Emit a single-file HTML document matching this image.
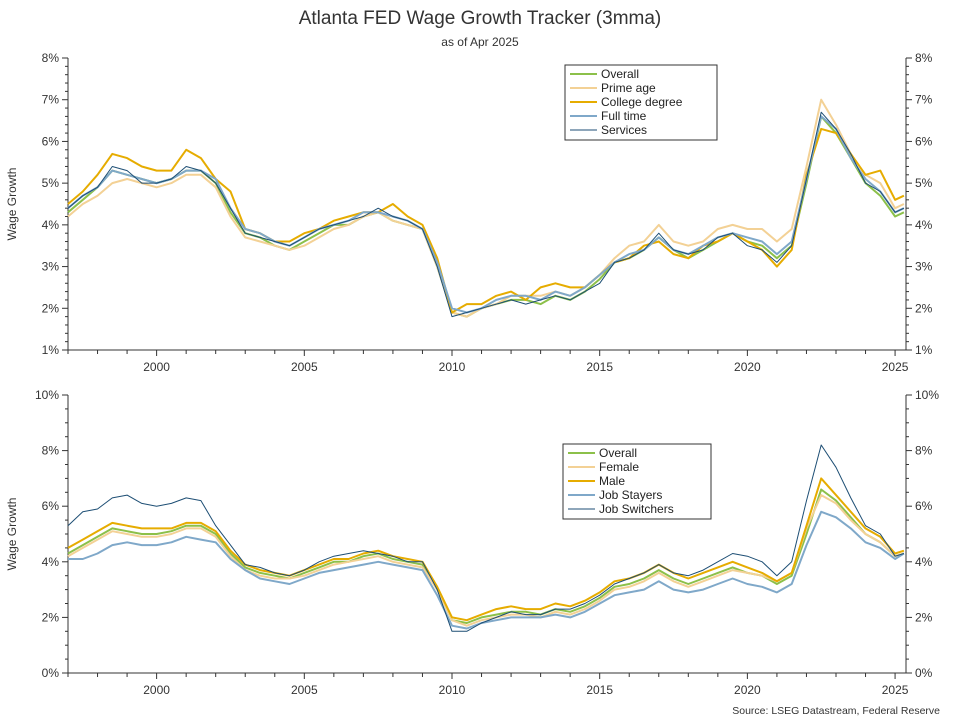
<!DOCTYPE html>
<html><head><meta charset="utf-8">
<style>
body{margin:0;background:#fff;}
svg{display:block;font-family:"Liberation Sans",Arial,sans-serif;}
</style></head>
<body>
<svg id="chart" width="960" height="720" viewBox="0 0 960 720">
<text x="480" y="24" text-anchor="middle" font-size="19" fill="#333">Atlanta FED Wage Growth Tracker (3mma)</text>
<text x="480" y="46" text-anchor="middle" font-size="12" fill="#333">as of Apr 2025</text>
<text x="940" y="714" text-anchor="end" font-size="10.5" fill="#333">Source: LSEG Datastream, Federal Reserve</text>
</svg>
<script>
// Dates: semiannual 1997.0 .. 2025.0 plus Apr 2025
const dates = [1997,1997.5,1998,1998.5,1999,1999.5,2000,2000.5,2001,2001.5,2002,2002.5,2003,2003.5,2004,2004.5,2005,2005.5,2006,2006.5,2007,2007.5,2008,2008.5,2009,2009.5,2010,2010.5,2011,2011.5,2012,2012.5,2013,2013.5,2014,2014.5,2015,2015.5,2016,2016.5,2017,2017.5,2018,2018.5,2019,2019.5,2020,2020.5,2021,2021.5,2022,2022.5,2023,2023.5,2024,2024.5,2025,2025.3];
// Top panel series
const overallTop =   [4.3,4.6,4.9,5.3,5.2,5.1,5.0,5.1,5.3,5.3,5.0,4.3,3.8,3.7,3.5,3.4,3.6,3.8,4.0,4.0,4.2,4.3,4.1,4.0,3.9,3.0,1.9,1.8,2.0,2.1,2.2,2.2,2.1,2.3,2.2,2.4,2.7,3.1,3.2,3.4,3.7,3.4,3.2,3.4,3.6,3.8,3.6,3.5,3.2,3.5,5.0,6.6,6.2,5.6,5.0,4.7,4.2,4.3];
const primeAge =     [4.2,4.5,4.7,5.0,5.1,5.0,4.9,5.0,5.2,5.2,4.9,4.2,3.7,3.6,3.5,3.4,3.5,3.7,3.9,4.0,4.2,4.3,4.1,4.0,3.9,3.0,1.9,1.8,2.0,2.1,2.3,2.3,2.3,2.4,2.3,2.5,2.8,3.2,3.5,3.6,4.0,3.6,3.5,3.6,3.9,4.0,3.9,3.9,3.6,3.9,5.4,7.0,6.4,5.7,5.2,5.0,4.4,4.5];
const college =      [4.5,4.8,5.2,5.7,5.6,5.4,5.3,5.3,5.8,5.6,5.1,4.8,3.9,3.8,3.6,3.6,3.8,3.9,4.1,4.2,4.3,4.3,4.5,4.2,4.0,3.2,1.9,2.1,2.1,2.3,2.4,2.2,2.5,2.6,2.5,2.5,2.8,3.1,3.2,3.5,3.6,3.3,3.2,3.5,3.6,3.8,3.6,3.4,3.0,3.4,5.2,6.3,6.2,5.7,5.2,5.3,4.6,4.7];
const fullTime =     [4.4,4.7,4.9,5.3,5.2,5.1,5.0,5.1,5.3,5.3,5.1,4.4,3.9,3.8,3.6,3.5,3.7,3.9,4.0,4.1,4.3,4.3,4.2,4.1,3.9,3.1,2.0,1.9,2.0,2.2,2.3,2.3,2.2,2.4,2.3,2.5,2.8,3.1,3.3,3.4,3.7,3.4,3.3,3.5,3.7,3.8,3.7,3.6,3.3,3.6,5.1,6.6,6.3,5.6,5.1,4.8,4.3,4.4];
const services =     [4.4,4.7,4.9,5.4,5.3,5.0,5.0,5.1,5.4,5.3,5.0,4.4,3.8,3.7,3.6,3.5,3.7,3.9,4.0,4.1,4.2,4.4,4.2,4.1,3.9,3.0,1.8,1.9,2.0,2.1,2.2,2.1,2.2,2.3,2.2,2.4,2.6,3.1,3.2,3.4,3.8,3.4,3.3,3.4,3.7,3.8,3.5,3.4,3.1,3.5,5.1,6.7,6.3,5.7,5.0,4.8,4.3,4.4];
// Bottom panel series
const overallBot =   [4.3,4.6,4.9,5.2,5.1,5.0,5.0,5.1,5.3,5.3,5.0,4.3,3.8,3.6,3.5,3.4,3.6,3.8,4.0,4.0,4.2,4.3,4.1,4.0,3.9,3.0,1.9,1.8,2.0,2.1,2.2,2.2,2.1,2.3,2.2,2.4,2.7,3.1,3.2,3.4,3.7,3.4,3.2,3.4,3.6,3.8,3.6,3.5,3.2,3.5,5.0,6.6,6.2,5.6,5.0,4.7,4.2,4.3];
const female =       [4.2,4.5,4.8,5.1,5.0,4.9,4.9,5.0,5.2,5.2,4.9,4.2,3.7,3.5,3.4,3.4,3.5,3.7,3.9,4.0,4.1,4.2,4.0,3.9,3.8,3.0,1.9,1.7,1.9,2.0,2.1,2.1,2.0,2.2,2.1,2.3,2.6,3.0,3.1,3.3,3.6,3.3,3.1,3.3,3.5,3.7,3.6,3.5,3.3,3.6,5.2,6.4,6.1,5.5,5.0,4.7,4.2,4.3];
const male =         [4.5,4.8,5.1,5.4,5.3,5.2,5.2,5.2,5.4,5.4,5.1,4.4,3.9,3.7,3.6,3.5,3.7,3.9,4.1,4.1,4.3,4.4,4.2,4.1,4.0,3.1,2.0,1.9,2.1,2.3,2.4,2.3,2.3,2.5,2.4,2.6,2.9,3.3,3.4,3.6,3.9,3.6,3.4,3.6,3.8,4.0,3.8,3.6,3.3,3.6,5.3,7.0,6.4,5.8,5.2,4.9,4.3,4.4];
const jobStayers =   [4.1,4.1,4.3,4.6,4.7,4.6,4.6,4.7,4.9,4.8,4.7,4.1,3.7,3.4,3.3,3.2,3.4,3.6,3.7,3.8,3.9,4.0,3.9,3.8,3.7,2.8,1.7,1.6,1.8,1.9,2.0,2.0,2.0,2.1,2.0,2.2,2.5,2.8,2.9,3.0,3.3,3.0,2.9,3.0,3.2,3.4,3.2,3.1,2.9,3.2,4.6,5.8,5.6,5.2,4.7,4.5,4.1,4.3];
const jobSwitchers = [5.3,5.8,5.9,6.3,6.4,6.1,6.0,6.1,6.3,6.2,5.3,4.6,3.9,3.8,3.6,3.5,3.7,4.0,4.2,4.3,4.4,4.3,4.2,4.0,4.0,3.0,1.5,1.5,1.8,2.0,2.2,2.1,2.1,2.3,2.3,2.5,2.8,3.2,3.4,3.6,3.9,3.6,3.5,3.7,4.0,4.3,4.2,4.0,3.5,4.0,6.2,8.2,7.4,6.3,5.3,5.0,4.2,4.3];

const svg = document.getElementById('chart');
const NS = 'http://www.w3.org/2000/svg';
const X0 = 68, X1 = 906, T0 = 1997, T1 = 2025.37;
function xs(t){ return X0 + (t - T0) / (T1 - T0) * (X1 - X0); }
function mk(tag, attrs, parent){
  const e = document.createElementNS(NS, tag);
  for (const k in attrs) e.setAttribute(k, attrs[k]);
  (parent || svg).appendChild(e);
  return e;
}

function panel(cfg){
  const g = mk('g', {});
  
  
  const ys = v => cfg.yb - (v - cfg.ymin) / (cfg.ymax - cfg.ymin) * (cfg.yb - cfg.yt);
  // axes
  const ax = mk('path', {d:`M${X0},${cfg.yt}V${cfg.yb}H${X1}V${cfg.yt}`, fill:'none', stroke:'#333', 'stroke-width':1}, g);
  
  
  // y ticks
  for (let v = cfg.ymin; v <= cfg.ymax + 1e-9; v += cfg.minor){
    const y = ys(v);
    const isMajor = Math.abs(Math.round(v / cfg.major) * cfg.major - v) < 1e-6;
    const len = isMajor ? 6 : 3;
    mk('line', {x1:X0-len, x2:X0, y1:y, y2:y, stroke:'#333'}, g);
    mk('line', {x1:X1, x2:X1+len, y1:y, y2:y, stroke:'#333'}, g);
    if (isMajor){
      const l = mk('text', {x:X0-9, y:y+4, 'text-anchor':'end', 'font-size':12, fill:'#333'}, g);
      l.textContent = Math.round(v) + '%';
      
      
      const r = mk('text', {x:X1+9, y:y+4, 'text-anchor':'start', 'font-size':12, fill:'#333'}, g);
      r.textContent = Math.round(v) + '%';
      
      
    }
  }
  // x ticks
  for (let yr = 1997; yr <= 2025; yr++){
    const x = xs(yr);
    const major = yr % 5 === 0;
    mk('line', {x1:x, x2:x, y1:cfg.yb, y2:cfg.yb + (major ? 6 : 4), stroke:'#333'}, g);
    if (major){
      const t = mk('text', {x:x, y:cfg.yb + 21, 'text-anchor':'middle', 'font-size':12, fill:'#333'}, g);
      t.textContent = yr;
      
      
    }
  }
  const yt = mk('text', {x:0, y:0, 'text-anchor':'middle', 'font-size':12, fill:'#333', transform:`translate(16,${(cfg.yt+cfg.yb)/2}) rotate(-90)`}, g);
  yt.textContent = 'Wage Growth';
  
  
  // series
  cfg.series.forEach(s => {
    const d = s.data.map((v,i) => (i ? 'L' : 'M') + xs(dates[i]).toFixed(1) + ',' + ys(v).toFixed(1)).join('');
    const p = mk('path', {d:d, fill:'none', stroke:s.color, 'stroke-width':s.w, 'stroke-linejoin':'round'}, g);
    
    
  });
  // legend
  const lg = mk('g', {}, g);
  
  
  mk('rect', {x:cfg.lx, y:cfg.ly, width:cfg.lw, height:75, fill:'#fff', stroke:'#333'}, lg);
  cfg.series.forEach((s,i) => {
    const y = cfg.ly + 9 + i * 14;
    mk('line', {x1:cfg.lx+5, x2:cfg.lx+32, y1:y, y2:y, stroke:s.color, 'stroke-width':s.w}, lg);
    const t = mk('text', {x:cfg.lx+36, y:y+4, 'font-size':12, fill:'#222'}, lg);
    t.textContent = s.label;
    
    
  });
}

panel({name:'top-panel', yt:58, yb:350, ymin:1, ymax:8, major:1, minor:0.2, lx:565, ly:65, lw:152,
  series:[
    {label:'Overall', data:overallTop, color:'#8cc04a', w:2},
    {label:'Prime age', data:primeAge, color:'#f3d195', w:2},
    {label:'College degree', data:college, color:'#e6ac00', w:2},
    {label:'Full time', data:fullTime, color:'#7fa8c9', w:2},
    {label:'Services', data:services, color:'#1d4e74', w:1}
  ]});
panel({name:'bottom-panel', yt:395, yb:673, ymin:0, ymax:10, major:2, minor:0.5, lx:563, ly:444, lw:148,
  series:[
    {label:'Overall', data:overallBot, color:'#8cc04a', w:2},
    {label:'Female', data:female, color:'#f3d195', w:2},
    {label:'Male', data:male, color:'#e6ac00', w:2},
    {label:'Job Stayers', data:jobStayers, color:'#7fa8c9', w:2},
    {label:'Job Switchers', data:jobSwitchers, color:'#1d4e74', w:1}
  ]});
</script>
</body></html>
